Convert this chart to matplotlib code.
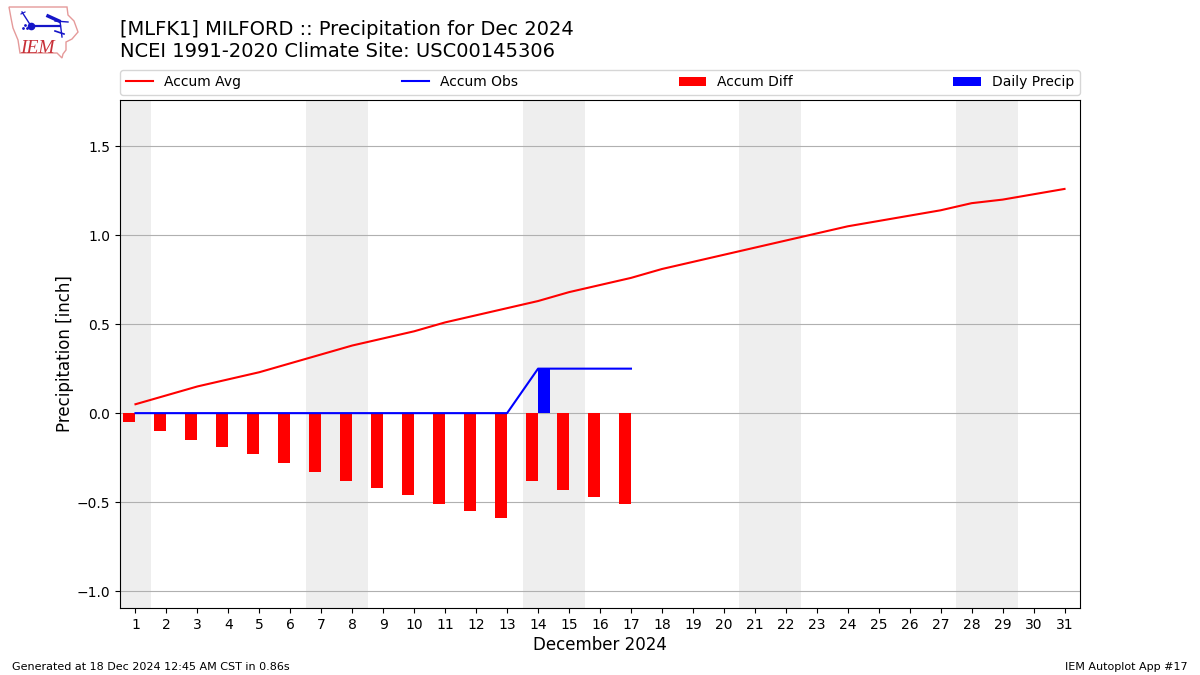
import numpy as np
import matplotlib
matplotlib.use("Agg")
import matplotlib.pyplot as plt
from matplotlib.patches import Polygon

days = list(range(1, 32))
weekend_spans = [(0.5, 1.5), (6.5, 8.5), (13.5, 15.5), (20.5, 22.5), (27.5, 29.5)]
accum_avg = [0.05, 0.10, 0.15, 0.19, 0.23, 0.28, 0.33, 0.38, 0.42, 0.46, 0.51, 0.55,
             0.59, 0.63, 0.68, 0.72, 0.76, 0.81, 0.85, 0.89, 0.93, 0.97, 1.01, 1.05,
             1.08, 1.11, 1.14, 1.18, 1.20, 1.23, 1.26]
obs_days = list(range(1, 18))
accum_obs = [0, 0, 0, 0, 0, 0, 0, 0, 0, 0, 0, 0, 0, 0.25, 0.25, 0.25, 0.25]
daily_precip = [0, 0, 0, 0, 0, 0, 0, 0, 0, 0, 0, 0, 0, 0.25, 0, 0, 0]
accum_diff = [-0.05, -0.10, -0.15, -0.19, -0.23, -0.28, -0.33, -0.38, -0.42, -0.46,
              -0.51, -0.55, -0.59, -0.38, -0.43, -0.47, -0.51]

fig = plt.figure(figsize=(12, 6.75), dpi=100)
ax = fig.add_axes([0.1, 0.0993, 0.8, 0.7526])

for start, end in weekend_spans:
    ax.axvspan(start, end, color="#eeeeee", lw=0, zorder=0)

ax.plot(days, accum_avg, color="r", lw=1.5, label="Accum Avg", zorder=3)
ax.plot(obs_days, accum_obs, color="b", lw=1.5, label="Accum Obs", zorder=3)
ax.bar(np.array(obs_days) - 0.2, accum_diff, width=0.4, color="r", label="Accum Diff", zorder=2)
ax.bar(np.array(obs_days) + 0.2, daily_precip, width=0.4, color="b", label="Daily Precip", zorder=2)

ax.set_xlim(0.5, 31.5)
ax.set_ylim(-1.095, 1.76)
ax.set_xticks(days)
ax.set_yticks([-1.0, -0.5, 0.0, 0.5, 1.0, 1.5])
ax.tick_params(labelsize=10)
ax.yaxis.grid(True, color="#b0b0b0", lw=0.8)
ax.set_axisbelow(True)
ax.set_xlabel("December 2024", fontsize=12, labelpad=3)
ax.set_ylabel("Precipitation [inch]", fontsize=12, labelpad=2)
ax.legend(loc="lower left", bbox_to_anchor=(0, 1.01, 1, 0.05), mode="expand", ncol=4,
          borderaxespad=0, fontsize=10)

fig.text(0.1, 0.91, "[MLFK1] MILFORD :: Precipitation for Dec 2024\n"
         "NCEI 1991-2020 Climate Site: USC00145306", fontsize=14, va="bottom", ha="left")
fig.text(0.01, 0.0075, "Generated at 18 Dec 2024 12:45 AM CST in 0.86s", fontsize=8)
fig.text(0.99, 0.0075, "IEM Autoplot App #17", fontsize=8, ha="right")

# IEM logo, drawn in pixel coordinates of the top left corner
logo = fig.add_axes([0, 1 - 62 / 675, 90 / 1200, 62 / 675])
logo.axis("off")
logo.set_xlim(0, 90)
logo.set_ylim(62, 0)
logo.add_patch(Polygon([(9, 7), (67, 7), (68, 15), (74, 21), (78, 32), (72, 39), (66, 42),
                        (66, 50), (63, 54), (62, 58), (57, 53), (20, 53), (18, 40),
                        (13, 28), (11, 18)],
                       closed=True, fill=False, ec="#e59a9a", lw=1))
blue = "#1515c8"
logo.plot([31, 60], [26, 26], color=blue, lw=1.6)
logo.plot([55, 68], [21, 22], color=blue, lw=1)
logo.plot([60, 62], [21, 37], color=blue, lw=1)
logo.plot([48, 59], [16, 21], color=blue, lw=2.5)
logo.plot([22, 31], [12, 26], color=blue, lw=1)
logo.plot([21, 25], [14, 12], color=blue, lw=0.8)
logo.plot([55, 64], [31, 34], color=blue, lw=1.2)
logo.plot([31], [26], "o", color=blue, ms=4.5)
logo.plot([23, 25, 27], [28, 25, 28], ".", color=blue, ms=2)
logo.text(20.5, 53, "IEM", color="#c83038", fontsize=14, style="italic", family="Liberation Serif")

fig.savefig("out.png", dpi=100)
